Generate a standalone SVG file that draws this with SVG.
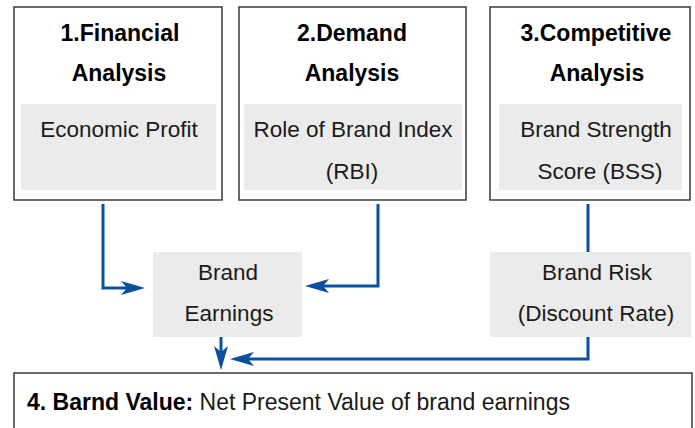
<svg xmlns="http://www.w3.org/2000/svg" width="695" height="428" viewBox="0 0 695 428">
<style>
.box{fill:#fff;stroke:#3a3a3a;stroke-width:1.5}
.gray{fill:#ebebeb}
.t{font-family:"Liberation Sans",Arial,sans-serif;font-size:22.5px;fill:#1a1a1a;text-anchor:middle}
.b{font-weight:bold;fill:#000;font-size:23px}
.c{fill:none;stroke:#0b509e;stroke-width:3}
</style>
<defs>
<marker id="arr" viewBox="0 -7.5 24 15" refX="14" refY="0" markerWidth="24" markerHeight="15" markerUnits="userSpaceOnUse" orient="auto">
<path d="M0,-7 L24,0 L0,7 L6,0 Z" fill="#0b509e"/>
</marker>
</defs>
<rect width="695" height="428" fill="#fff"/>
<g id="connectors">
<path class="c" d="M103,204 V288 H135" marker-end="url(#arr)"/>
<path class="c" d="M378,204 V286 H315" marker-end="url(#arr)"/>
<path class="c" d="M588,204 V252"/>
<path class="c" d="M588,337 V359 H240" marker-end="url(#arr)"/>
<path class="c" d="M221,337 V360" marker-end="url(#arr)"/>
</g>
<g id="financial">
<rect class="box" x="14" y="7" width="208" height="193"/>
<text class="t b" x="120" y="41">1.Financial</text>
<text class="t b" x="119" y="81">Analysis</text>
<rect class="gray" x="21" y="104" width="195" height="86"/>
<text class="t" x="119" y="137">Economic Profit</text>
</g>
<g id="demand">
<rect class="box" x="239" y="7" width="227" height="193"/>
<text class="t b" x="352" y="41">2.Demand</text>
<text class="t b" x="352" y="81">Analysis</text>
<rect class="gray" x="244" y="104" width="218" height="86"/>
<text class="t" x="353" y="137">Role of Brand Index</text>
<text class="t" x="352" y="179">(RBI)</text>
</g>
<g id="competitive">
<rect class="box" x="490" y="7" width="200" height="193"/>
<text class="t b" x="596" y="41">3.Competitive</text>
<text class="t b" x="597" y="81">Analysis</text>
<rect class="gray" x="499" y="104" width="183" height="86"/>
<text class="t" x="596" y="137">Brand Strength</text>
<text class="t" x="600" y="179">Score (BSS)</text>
</g>
<g id="earnings">
<rect class="gray" x="153" y="252" width="149" height="85"/>
<text class="t" x="228" y="280">Brand</text>
<text class="t" x="229" y="321">Earnings</text>
</g>
<g id="risk">
<rect class="gray" x="490" y="252" width="201" height="85"/>
<text class="t" x="597" y="280">Brand Risk</text>
<text class="t" x="596" y="321">(Discount Rate)</text>
</g>
<g id="value">
<rect class="box" x="14" y="373" width="678" height="70"/>
<text class="t" x="27" y="410" style="text-anchor:start;font-size:23px"><tspan class="b">4. Barnd Value:</tspan> Net Present Value of brand earnings</text>
</g>
</svg>
